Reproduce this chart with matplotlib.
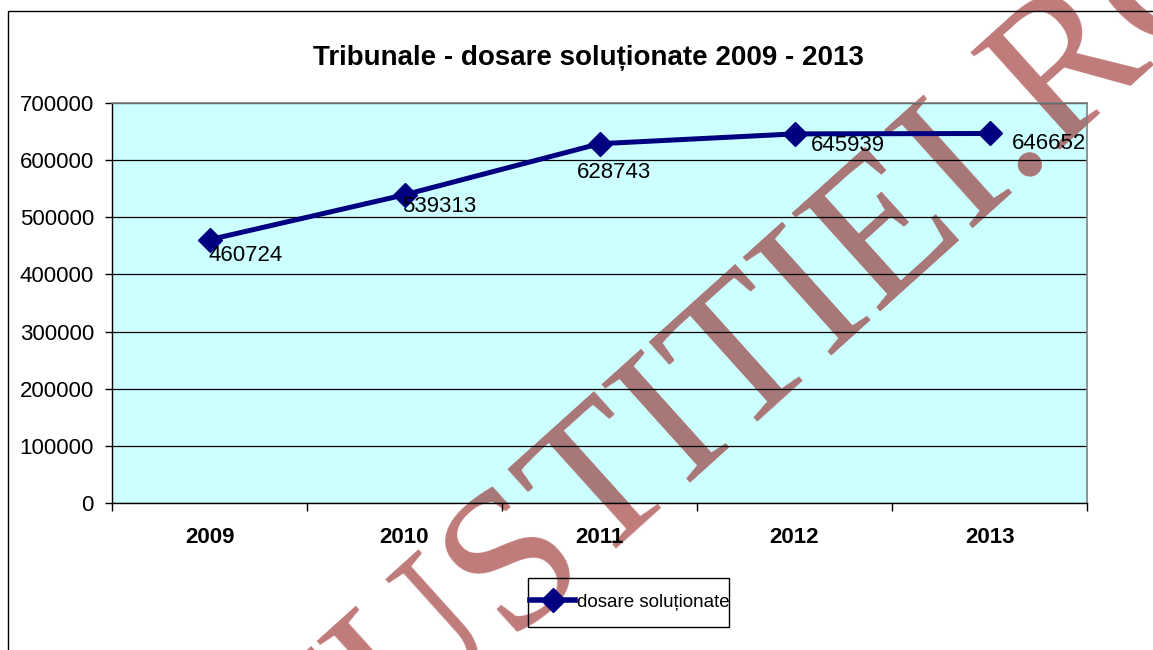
import matplotlib
matplotlib.use("Agg")
import matplotlib.pyplot as plt
from matplotlib.lines import Line2D
from matplotlib.patches import Rectangle
import matplotlib.transforms as mtransforms

# ---- data ----
years = ["2009", "2010", "2011", "2012", "2013"]
solved = [460724, 539313, 628743, 645939, 646652]
series_name = "dosare soluționate"
title = "Tribunale - dosare soluționate 2009 - 2013"
y_ticks = [0, 100000, 200000, 300000, 400000, 500000, 600000, 700000]
watermark = "JUSTITIEI.RO"

# label offsets in pixels (dx right, dy down) relative to each point
label_offsets = [(-1, 16), (-2, 12), (-23, 29), (16, 12), (22, 10)]

W, H = 1153, 650
fig = plt.figure(figsize=(W / 100, H / 100), dpi=100)
fig.patch.set_facecolor("white")

SANS = ["Liberation Sans", "DejaVu Sans"]

# plot area in pixels
L, R, T, B = 112, 1087, 103, 503
ax = fig.add_axes([L / W, 1 - B / H, (R - L) / W, (B - T) / H])
ax.set_facecolor("none")
ax.set_zorder(2)

# cyan plot background as a figure patch (below watermark)
bg = Rectangle((L / W, 1 - B / H), (R - L) / W, (B - T) / H,
               transform=fig.transFigure, facecolor="#CCFFFF",
               edgecolor="none", zorder=-3)
fig.patches.append(bg)

# outer chart border
fig.add_artist(Line2D([8 / W, 8 / W, 1.01], [-0.01, 1 - 11 / H, 1 - 11 / H],
                      transform=fig.transFigure, color="black", lw=1.0,
                      zorder=1))

x = list(range(len(years)))
ax.plot(x, solved, color="#000080", lw=3.6, marker="D", markersize=12.5,
        markerfacecolor="#000080", markeredgecolor="#000080",
        label=series_name, zorder=5, clip_on=False)

for xi, v, (dx, dy) in zip(x, solved, label_offsets):
    off = mtransforms.offset_copy(ax.transData, fig=fig, x=dx * 0.72,
                                  y=-dy * 0.72, units="points")
    ax.text(xi, v, str(v), transform=off, ha="left", va="center",
            fontsize=16, family=SANS, color="black", zorder=6)

ax.set_xlim(-0.5, len(years) - 0.5)
ax.set_ylim(0, 700000)
ax.set_yticks(y_ticks)
ax.set_yticklabels([str(t) for t in y_ticks], family=SANS, fontsize=16)
ax.set_xticks(x)
ax.set_xticklabels(years, family=SANS, fontsize=16, fontweight="bold")
ax.set_xticks([i - 0.5 for i in range(len(years) + 1)], minor=True)
ax.tick_params(axis="x", which="major", length=0, pad=17)
ax.tick_params(axis="x", which="minor", length=6, width=1, direction="out",
               color="black")
ax.tick_params(axis="y", length=5, width=1, direction="out", pad=8,
               color="black")

ax.grid(axis="y", color="black", lw=0.9, zorder=1)
ax.set_axisbelow(True)
for s in ["top", "right"]:
    ax.spines[s].set_color("#808080")
    ax.spines[s].set_linewidth(1.2)
for s in ["left", "bottom"]:
    ax.spines[s].set_color("black")
    ax.spines[s].set_linewidth(1.0)

fig.text(588 / W, 1 - 58 / H, title, ha="center", va="center",
         fontsize=20, fontweight="bold", family=SANS)

# legend (frame drawn separately)
leg = ax.legend(loc="center left", bbox_to_anchor=(530 / W, 1 - 602 / H),
                bbox_transform=fig.transFigure, frameon=False,
                handlelength=2.4, handletextpad=0.1, borderpad=0.0,
                borderaxespad=0.0, prop={"family": SANS, "size": 13.5})
for h in leg.legend_handles:
    h.set_linewidth(4.0)
    h.set_markersize(12)
fig.add_artist(Rectangle((528 / W, 1 - 627 / H), 201 / W, 49 / H,
                         transform=fig.transFigure, facecolor="none",
                         edgecolor="black", lw=1.0, zorder=1))

# watermark, drawn below axes content
wm_kw = dict(rotation=42, rotation_mode="anchor", ha="center", va="center",
             fontsize=145, family=["Liberation Serif", "DejaVu Serif"])
wx, wy = 771 / W, 1 - 341 / H
fig.text(wx, wy, watermark, color="#C07A7A", zorder=-1, **wm_kw)
t2 = fig.text(wx, wy, watermark, color="#A87878", zorder=-0.5, **wm_kw)
t2.set_clip_path(bg)

fig.savefig("out.png", dpi=100)
